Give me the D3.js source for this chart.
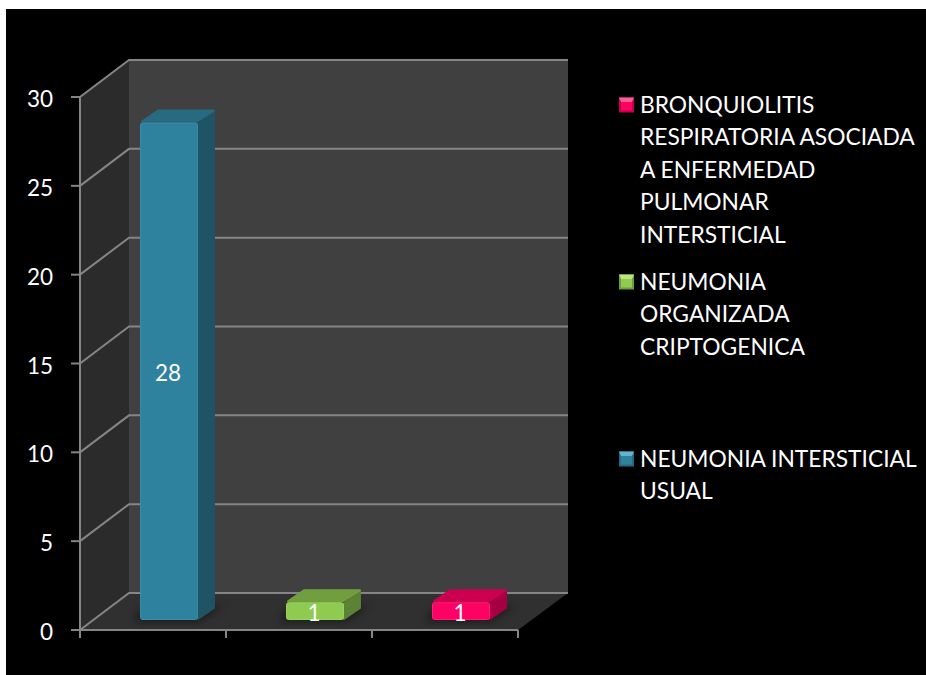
<!DOCTYPE html>
<html><head><meta charset="utf-8">
<script src="https://cdn.jsdelivr.net/npm/d3@7/dist/d3.min.js"></script>
<style>html,body{margin:0;padding:0;background:#fff}svg{display:block}text{font-family:Lato,sans-serif;fill:#fff}</style>
</head><body><div id="chart"></div>
<script>
const categories = ["a","b","c"];
const seriesNames = ["NEUMONIA INTERSTICIAL USUAL","NEUMONIA ORGANIZADA CRIPTOGENICA","BRONQUIOLITIS RESPIRATORIA ASOCIADA A ENFERMEDAD PULMONAR INTERSTICIAL"];
const values = [28,1,1];
const yTicks = [0,5,10,15,20,25,30];
const legendLines = [
 ["BRONQUIOLITIS","RESPIRATORIA ASOCIADA","A ENFERMEDAD","PULMONAR","INTERSTICIAL"],
 ["NEUMONIA","ORGANIZADA","CRIPTOGENICA"],
 ["NEUMONIA INTERSTICIAL","USUAL"]
];
const legendIdx = [2,1,0];
const legendY = [105,282,459];
const front = ["#2f829e","#8ecb50","#ff0063"];
const edge = ["#3a8da9","#99d45e","#ff1f78"];
const top3 = ["#286a7f","#719f40","#cc004f"];
const side = ["#1f5465","#5c8235","#a50041"];
const legendTop = ["#63b4cf","#b9e67f","#ff5c9a"];
const legendBottom = ["#256a82","#6d9c3c","#c4004c"];

const W=926,H=675, L=80,R=518,T=97,B=630, DX=49, DY=37;
const svg=d3.select("#chart").append("svg").attr("width",W).attr("height",H);
const defs=svg.append("defs");
defs.append("filter").attr("id","blur").attr("x","-30%").attr("y","-100%").attr("width","160%").attr("height","300%")
  .append("feGaussianBlur").attr("stdDeviation",4);
svg.append("rect").attr("x",6).attr("y",9).attr("width",W-6).attr("height",H-9).attr("fill","#000");

const x=d3.scaleBand().domain(categories).range([L,R]);
const y=d3.scaleLinear().domain([0,30]).range([B,T]);
const poly=(p,f)=>svg.append("polygon").attr("points",p.map(d=>d.join(",")).join(" ")).attr("fill",f);
// walls
poly([[L+DX,T-DY],[R+DX+1,T-DY],[R+DX+1,B-DY],[L+DX,B-DY]],"#404040");
poly([[L,T],[L+DX,T-DY],[L+DX,B-DY],[L,B]],"#2b2b2b");
poly([[L,B],[R,B],[R+DX+1,B-DY],[L+DX,B-DY]],"#303030");
const gc="#858585", sw=2;
// gridlines
yTicks.forEach(t=>{
  svg.append("path").attr("d",`M${L},${y(t)}L${L+DX},${y(t)-DY}L${R+DX+1},${y(t)-DY}`).attr("fill","none").attr("stroke",gc).attr("stroke-width",sw);
  svg.append("line").attr("x1",L-9).attr("x2",L).attr("y1",y(t)).attr("y2",y(t)).attr("stroke",gc).attr("stroke-width",sw);
  svg.append("text").attr("x",L-27).attr("y",y(t)+10).attr("text-anchor","end").attr("font-size",22.5).text(t);
});
// axes
svg.append("line").attr("x1",L).attr("x2",L).attr("y1",T).attr("y2",B+8).attr("stroke",gc).attr("stroke-width",sw);
svg.append("line").attr("x1",L).attr("x2",R).attr("y1",B).attr("y2",B).attr("stroke",gc).attr("stroke-width",sw);
categories.forEach(c=>{
  const xe=x(c)+x.bandwidth();
  svg.append("line").attr("x1",xe).attr("x2",xe).attr("y1",B).attr("y2",B+8).attr("stroke",gc).attr("stroke-width",sw);
});
// bars
const bw=x.bandwidth()*0.397, ox=16, oy=10, dx=17, dy=13;
categories.forEach((c,i)=>{
  const x0=x(c)+x.bandwidth()/2-bw/2+ox, x1=x0+bw, yb=y(0)-oy, yt=y(values[i])-oy;
  svg.append("polygon").attr("points",[[x0-6,yb+1],[x1,yb+1],[x1+dx+8,yb-dy-1],[x1,yb-dy-1],[x0,yb-dy+4]].map(d=>d.join(",")).join(" "))
    .attr("fill","#000").attr("opacity",.5).attr("filter","url(#blur)");
  poly([[x1,yt+1],[x1+dx-1,yt-dy+2],[x1+dx-1,yb-dy+1],[x1,yb-1]],side[i]).attr("stroke",side[i]).attr("stroke-width",2).attr("stroke-linejoin","round");
  poly([[x0+2,yt-1],[x0+dx+1,yt-dy+1],[x1+dx-1,yt-dy+1],[x1-1,yt-1]],top3[i]).attr("stroke",top3[i]).attr("stroke-width",2).attr("stroke-linejoin","round");
  svg.append("rect").attr("x",x0+.5).attr("y",yt+.5).attr("width",bw-1).attr("height",yb-yt-1).attr("rx",2).attr("fill",front[i]).attr("stroke",edge[i]).attr("stroke-width",1);
  svg.append("text").attr("x",(x0+x1)/2-1).attr("y",(yt+yb)/2+10).attr("text-anchor","middle").attr("font-size",22.5).text(values[i]);
});
// legend
legendLines.forEach((lines,k)=>{
  const i=legendIdx[k], ly=legendY[k];
  svg.append("rect").attr("x",619).attr("y",ly-7.5).attr("width",15).attr("height",15).attr("fill",legendBottom[i]);
  poly([[619,ly-7.5],[634,ly-7.5],[630,ly+1],[623,ly+1]],legendTop[i]);
  svg.append("rect").attr("x",621).attr("y",ly-3).attr("width",11).attr("height",8.5).attr("fill",front[i]);
  lines.forEach((t,j)=>svg.append("text").attr("x",640).attr("y",ly+7.5+j*32.6).attr("font-size",22.8).text(t));
});
</script></body></html>
